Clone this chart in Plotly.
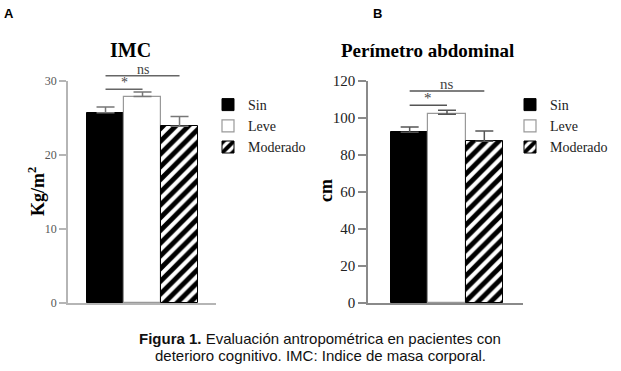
import plotly.graph_objects as go

# ---- data ----
categories = ["Sin", "Leve", "Moderado"]
imc_values = [25.7, 27.9, 23.9]
imc_errors = [0.8, 0.6, 1.3]
pa_values = [92.3, 102.0, 87.4]
pa_errors = [2.8, 2.2, 5.6]
imc_ticks = [0, 10, 20, 30]
pa_ticks = [0, 20, 40, 60, 80, 100, 120]
# significance brackets: (from, to, height, label)
imc_sig = [("Sin", "Leve", 28.9, "*"), ("Sin", "Moderado", 30.7, "ns")]
pa_sig = [("Sin", "Leve", 106.9, "*"), ("Sin", "Moderado", 114.6, "ns")]

SERIF = "Liberation Serif"
SANS = "Liberation Sans"

W, H = 621, 371

def px_x(p):
    return p / W

def px_y(p):
    return 1 - p / H

styles = {
    "Sin": dict(color="black", line=dict(color="black", width=1)),
    "Leve": dict(color="white", line=dict(color="#999999", width=1.2)),
    "Moderado": dict(color="white", line=dict(color="black", width=1),
                     pattern=dict(shape="/", fgcolor="black", bgcolor="white",
                                  size=9, solidity=0.55, fillmode="replace")),
}

fig = go.Figure()

panels = [
    dict(vals=imc_values, errs=imc_errors, xa="x", ya="y", legend="legend",
         errcolor="#777777"),
    dict(vals=pa_values, errs=pa_errors, xa="x2", ya="y2", legend="legend2",
         errcolor="#555555"),
]
for pnl in panels:
    for cat, v, e in zip(categories, pnl["vals"], pnl["errs"]):
        fig.add_trace(go.Bar(
            x=[cat], y=[v], name=cat, width=1,
            marker=styles[cat],
            error_y=dict(type="data", array=[e], arrayminus=[0], symmetric=False,
                         color=pnl["errcolor"], thickness=1.5, width=9),
            xaxis=pnl["xa"], yaxis=pnl["ya"], legend=pnl["legend"],
        ))

axis_common = dict(showgrid=False, zeroline=False, showline=True, linewidth=1.5)

fig.update_layout(
    width=W, height=H,
    margin=dict(l=0, r=0, t=0, b=0, pad=0, autoexpand=False),
    paper_bgcolor="white", plot_bgcolor="white",
    barmode="overlay", bargap=0, hovermode=False,
    xaxis=dict(domain=[px_x(68), px_x(216)], range=[-1.014, 2.986],
               showticklabels=False, ticks="", linecolor="#b5b5b5",
               categoryorder="array", categoryarray=categories, **axis_common),
    yaxis=dict(domain=[px_y(303), px_y(81)], range=[0, 30], tickvals=imc_ticks,
               ticks="outside", ticklen=7, tickwidth=1.5, tickcolor="#b5b5b5",
               linecolor="#b5b5b5",
               tickfont=dict(family=SERIF, size=12, color="#555555"), **axis_common),
    xaxis2=dict(domain=[px_x(368), px_x(523)], range=[-1.116, 3.036],
                showticklabels=False, ticks="", linecolor="#8a8a8a",
                categoryorder="array", categoryarray=categories, **axis_common),
    yaxis2=dict(domain=[px_y(303), px_y(81)], range=[0, 120], tickvals=pa_ticks,
                ticks="outside", ticklen=8, tickwidth=1.5, tickcolor="#8a8a8a",
                linecolor="#8a8a8a", anchor="x2",
                tickfont=dict(family=SERIF, size=15, color="#222222"), **axis_common),
    legend=dict(x=px_x(208), y=px_y(89), xanchor="left", yanchor="top",
                font=dict(family=SERIF, size=14, color="#222222"),
                bgcolor="rgba(0,0,0,0)", tracegroupgap=0),
    legend2=dict(x=px_x(510), y=px_y(89), xanchor="left", yanchor="top",
                 font=dict(family=SERIF, size=14, color="#222222"),
                 bgcolor="rgba(0,0,0,0)", tracegroupgap=0),
    showlegend=True,
)

# significance brackets
for sig, xa, ya, ymax, col, fs in [(imc_sig, "x", "y", imc_ticks[-1], "#666666", 14),
                                   (pa_sig, "x2", "y2", pa_ticks[-1], "#555555", 15)]:
    for a, b, h, lab in sig:
        fig.add_shape(type="line", xref=xa, yref=f"{ya} domain",
                      x0=categories.index(a), x1=categories.index(b),
                      y0=h / ymax, y1=h / ymax,
                      line=dict(color=col, width=1.5))
        fig.add_annotation(xref=xa, yref=f"{ya} domain",
                           x=(categories.index(a) + categories.index(b)) / 2,
                           y=h / ymax, yanchor="bottom", xanchor="center",
                           showarrow=False, text=lab, yshift=-3,
                           font=dict(family=SERIF, size=fs, color="#444444"))


def label(x, y, text, family, size, angle=0, color="black"):
    fig.add_annotation(xref="paper", yref="paper", x=px_x(x), y=px_y(y),
                       xanchor="center", yanchor="middle", text=text,
                       showarrow=False, textangle=angle,
                       font=dict(family=family, size=size, color=color))

# panel titles
label(130, 50, "<b>IMC</b>", SERIF, 20)
label(428, 50, "<b>Perímetro abdominal</b>", SERIF, 19)
# axis titles
label(36, 192, "<b>Kg/m<sup>2</sup></b>", SERIF, 18, angle=-90)
label(326, 191, "<b>cm</b>", SERIF, 18, angle=-90)
# panel letters
label(9, 13.5, "<b>A</b>", SANS, 13)
label(377.5, 13, "<b>B</b>", SANS, 13)
# caption
label(320, 338, "<b>Figura 1.</b> Evaluación antropométrica en pacientes con",
      SANS, 15, color="#111111")
label(320, 355, "deterioro cognitivo. IMC: Indice de masa corporal.",
      SANS, 15, color="#111111")

# remove the default 8px page margin so the figure fills the window exactly
fig.write_html("out.html", config={"displayModeBar": False},
               post_script="document.body.style.margin='0px';")
